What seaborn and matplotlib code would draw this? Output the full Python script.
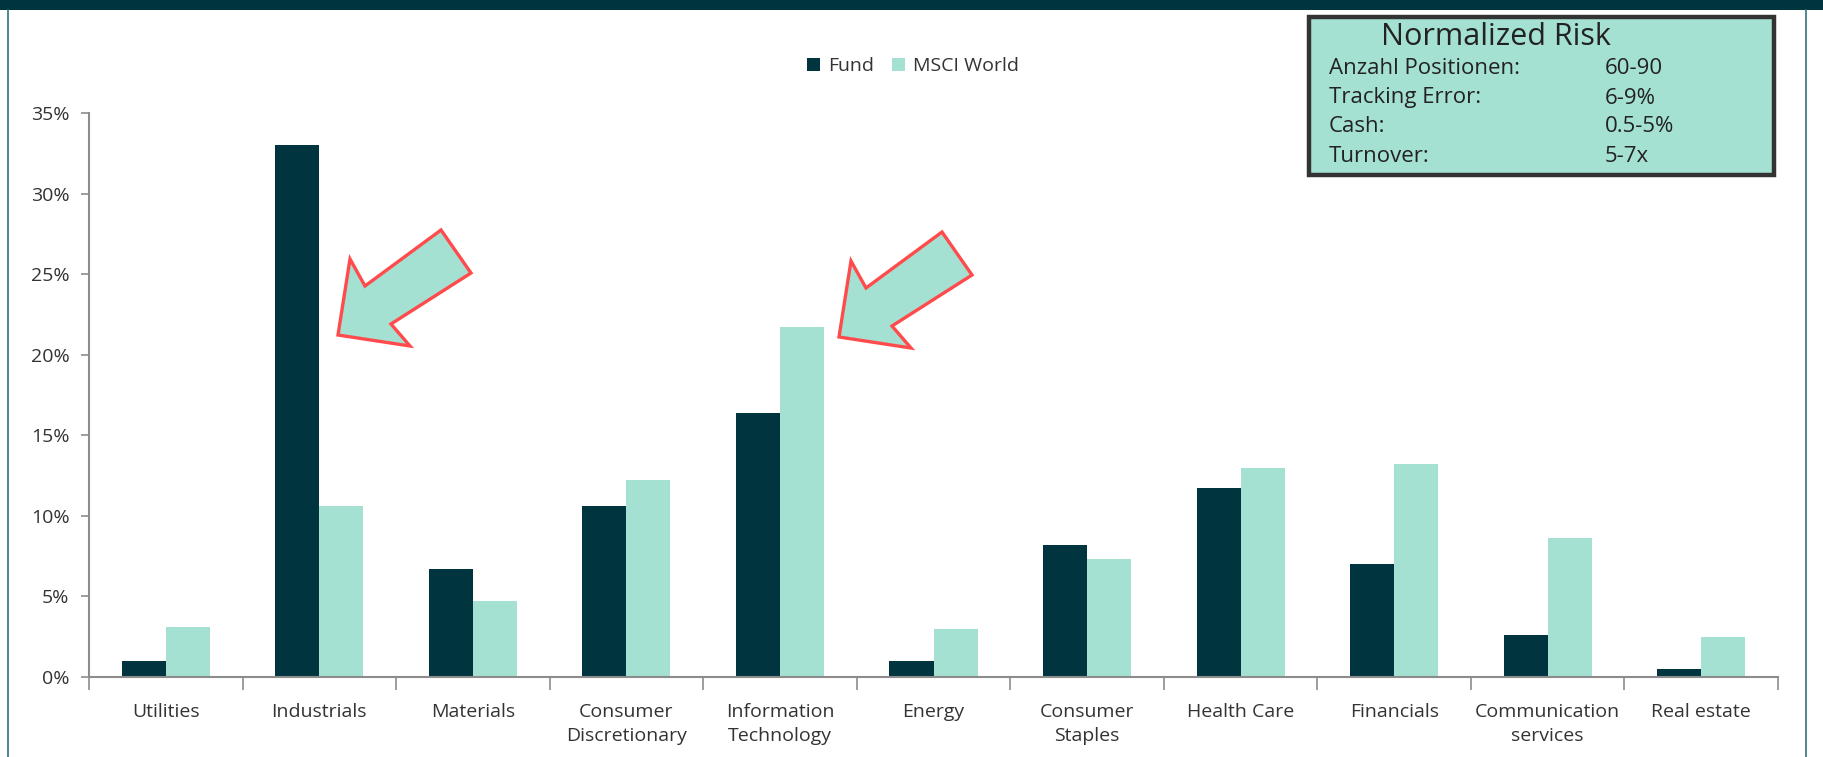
import numpy as np
import pandas as pd
import seaborn as sns
import matplotlib.pyplot as plt
from matplotlib.patches import Polygon, Rectangle

# Data
sectors = ["Utilities", "Industrials", "Materials", "Consumer\nDiscretionary",
           "Information\nTechnology", "Energy", "Consumer\nStaples", "Health Care",
           "Financials", "Communication\nservices", "Real estate"]
fund = [1.0, 33.0, 6.7, 10.6, 16.4, 1.0, 8.2, 11.7, 7.0, 2.6, 0.5]
msci = [3.1, 10.6, 4.7, 12.2, 21.7, 3.0, 7.3, 13.0, 13.2, 8.6, 2.5]
series_names = ["Fund", "MSCI World"]
yticks = [0, 5, 10, 15, 20, 25, 30, 35]

risk_labels = ["Anzahl Positionen:", "Tracking Error:", "Cash:", "Turnover:"]
risk_values = ["60-90", "6-9%", "0.5-5%", "5-7x"]

dark = "#003540"
light = "#A5E1D2"
red = "#FF4B4B"

df = pd.DataFrame({
    "sector": sectors * 2,
    "value": fund + msci,
    "series": [series_names[0]] * len(sectors) + [series_names[1]] * len(sectors),
})

sns.set_theme(style="white")
plt.rcParams["font.family"] = ["Open Sans", "DejaVu Sans"]

W, H = 1823, 757
fig = plt.figure(figsize=(W / 100, H / 100), dpi=100)
ax = fig.add_axes([89 / W, 1 - 677 / H, (1778 - 89) / W, (677 - 113) / H])

sns.barplot(data=df, x="sector", y="value", hue="series", palette=[dark, light],
            width=0.574, ax=ax, saturation=1, errorbar=None, linewidth=0)

ax.set_xlim(-0.5, len(sectors) - 0.5)
ax.set_ylim(0, 35)
ax.set_yticks(yticks)
ax.set_yticklabels([f"{t}%" for t in yticks], fontsize=14, color="#333333")
ax.set_xlabel("")
ax.set_ylabel("")

# x labels centred, ticks at category boundaries
ax.set_xticks(range(len(sectors)))
ax.set_xticklabels(sectors, fontsize=14, color="#333333", linespacing=1.4)
ax.tick_params(axis="x", which="major", length=0, pad=19)
ax.set_xticks(np.arange(-0.5, len(sectors), 1), minor=True)
ax.tick_params(axis="x", which="minor", length=9, width=1.2, color="#8c8c8c",
               direction="out", bottom=True)
ax.tick_params(axis="y", length=6, width=1.2, color="#8c8c8c", direction="out",
               left=True, pad=8)

for s in ["top", "right"]:
    ax.spines[s].set_visible(False)
for s in ["left", "bottom"]:
    ax.spines[s].set_color("#8c8c8c")
    ax.spines[s].set_linewidth(1.5)

ax.legend(loc="upper center", bbox_to_anchor=(913 / W, 1 - 40 / H),
          bbox_transform=fig.transFigure, ncol=2, frameon=False, fontsize=14,
          handlelength=0.7, handleheight=0.7, handletextpad=0.4, columnspacing=0.9)
for t in ax.get_legend().get_texts():
    t.set_color("#333333")

# Frame decorations
fig.patches.append(Rectangle((0, 1 - 10 / H), 1, 10 / H, transform=fig.transFigure,
                             facecolor=dark, edgecolor="none"))
fig.add_artist(plt.Line2D([8 / W, 8 / W], [0, 1 - 10 / H], color="#2d7383", lw=1.2))
fig.add_artist(plt.Line2D([1806 / W, 1806 / W], [0, 1 - 10 / H], color="#2d7383", lw=1.2))


# Arrows (annotation shapes in pixel coordinates)
def px(pts, dx=0, dy=0):
    return [((x + dx) / W, 1 - (y + dy) / H) for x, y in pts]


arrow = [(338, 335), (350, 259), (365, 286), (441, 230), (471, 273), (391, 324), (410, 346)]
for dx, dy in [(0, 0), (501, 2)]:
    fig.patches.append(Polygon(px(arrow, dx, dy), closed=True, transform=fig.transFigure,
                               facecolor=light, edgecolor=red, lw=2.4, joinstyle="miter"))

# Normalized risk box
bx0, by0, bx1, by1 = 1309, 17, 1774, 175
fig.patches.append(Rectangle((bx0 / W, 1 - by1 / H), (bx1 - bx0) / W, (by1 - by0) / H,
                             transform=fig.transFigure, facecolor=light,
                             edgecolor="#333333", lw=3.2))
fig.text(1496 / W, 1 - 37 / H, "Normalized Risk", fontsize=22, color="#222222",
         ha="center", va="center")
for i, (lab, val) in enumerate(zip(risk_labels, risk_values)):
    y = 1 - (69 + 29 * i) / H
    fig.text(1329 / W, y, lab, fontsize=16, color="#222222", va="center")
    fig.text(1605 / W, y, val, fontsize=16, color="#222222", va="center")

plt.savefig("out.png", dpi=100)
